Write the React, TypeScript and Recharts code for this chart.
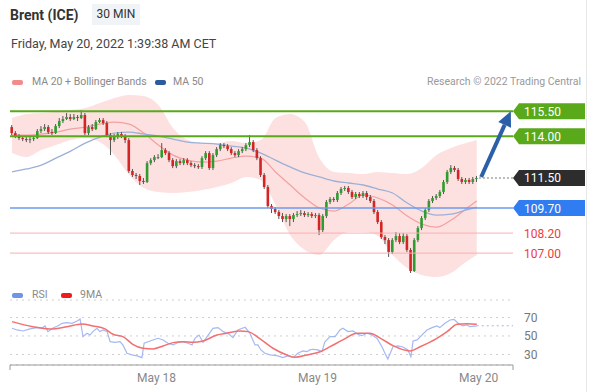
import React from "react";
import {
  ComposedChart,
  LineChart,
  Area,
  Bar,
  Line,
  XAxis,
  YAxis,
  CartesianGrid,
  ReferenceLine,
} from "recharts";

// 30 min candles, index 0 = first visible bar
const X_DOMAIN: [number, number] = [-0.55, 136.9];
const PRICE_DOMAIN: [number, number] = [105.39, 116.77];
const RSI_DOMAIN: [number, number] = [18.6, 88.9];

const firstOpen = 114.55;
const closes = [
  114.19, 114.01, 113.89, 113.83, 113.77, 113.83, 113.89, 114.31, 114.43, 114.55,
  114.25, 114.19, 114.61, 114.91, 115.03, 115.15, 115.03, 115.15, 115.09, 115.27,
  114.19, 114.55, 114.43, 114.85, 114.97, 114.79, 114.07, 113.77, 113.95, 114.13,
  114.01, 113.77, 111.92, 111.68, 111.62, 111.32, 111.26, 112.39, 112.57, 112.75,
  112.75, 113.17, 112.99, 112.57, 112.21, 112.51, 112.39, 112.57, 112.39, 112.27,
  112.21, 112.16, 112.69, 112.99, 112.1, 112.87, 113.23, 113.47, 113.41, 113.23,
  112.99, 112.87, 113.11, 113.23, 113.47, 113.65, 113.17, 112.69, 111.68, 110.96,
  109.82, 109.64, 109.46, 109.22, 109.04, 109.22, 109.04, 109.28, 109.34, 109.4,
  109.28, 109.34, 109.22, 109.28, 108.38, 109.22, 110.06, 110.24, 110.18, 110.6,
  110.84, 110.9, 110.66, 110.36, 110.54, 110.42, 110.6, 110.36, 110.12, 109.46,
  108.86, 107.96, 107.78, 107.07, 107.78, 108.02, 107.66, 108.02, 107.19, 105.93,
  107.78, 108.5, 109.1, 109.58, 110.12, 110.3, 110.42, 110.66, 111.26, 111.86,
  112.1, 111.98, 111.44, 111.26, 111.38, 111.26, 111.44, 111.5,
];
const highs = [
  114.67, 114.31, 114.13, 114.01, 113.95, 113.95, 114.01, 114.43, 114.61, 114.73,
  114.67, 114.43, 114.73, 115.09, 115.21, 115.39, 115.33, 115.33, 115.27, 115.57,
  115.39, 114.67, 114.73, 114.97, 115.09, 115.09, 114.91, 114.19, 114.13, 114.25,
  114.25, 114.13, 113.89, 112.04, 111.8, 111.74, 111.5, 112.51, 112.69, 112.87,
  112.93, 113.59, 113.29, 113.11, 112.69, 112.63, 112.63, 112.69, 112.69, 112.51,
  112.39, 112.33, 112.81, 113.11, 113.11, 112.99, 113.35, 113.59, 113.59, 113.53,
  113.35, 113.11, 113.23, 113.35, 113.59, 114.07, 113.77, 113.29, 112.81, 111.8,
  111.08, 109.94, 109.76, 109.58, 109.4, 109.34, 109.34, 109.4, 109.52, 109.58,
  109.52, 109.46, 109.46, 109.4, 109.4, 109.34, 110.18, 110.36, 110.36, 110.72,
  110.96, 111.02, 111.02, 110.78, 110.66, 110.66, 110.72, 110.72, 110.48, 110.24,
  109.58, 108.98, 108.08, 107.9, 107.9, 108.26, 108.2, 108.2, 108.14, 107.31,
  107.9, 108.62, 109.22, 109.7, 110.24, 110.42, 110.54, 110.78, 111.38, 111.98,
  112.27, 112.22, 112.1, 111.56, 111.5, 111.5, 111.56, 111.62,
];
const lows = [
  114.07, 113.89, 113.77, 113.71, 113.65, 113.59, 113.71, 113.83, 114.19, 114.31,
  114.13, 114.07, 114.13, 114.49, 114.79, 114.97, 114.91, 114.97, 114.91, 115.03,
  114.07, 114.07, 114.31, 114.37, 114.79, 114.67, 113.95, 112.87, 113.65, 113.83,
  113.89, 113.59, 111.8, 111.56, 111.44, 111.08, 111.14, 111.2, 112.27, 112.45,
  112.63, 112.69, 112.87, 112.45, 112.09, 112.09, 112.27, 112.27, 112.27, 112.15,
  112.09, 112.04, 112.04, 112.57, 111.98, 111.98, 112.75, 113.11, 113.29, 113.11,
  112.87, 112.75, 112.75, 112.99, 113.11, 113.35, 113.05, 112.57, 111.56, 110.84,
  109.7, 109.4, 109.34, 109.04, 108.86, 108.86, 108.62, 108.86, 109.16, 109.22,
  109.16, 109.16, 109.1, 109.1, 108.08, 108.26, 109.1, 109.94, 110.06, 110.06,
  110.48, 110.72, 110.54, 110.24, 110.24, 110.3, 110.3, 110.18, 110.0, 109.34,
  108.74, 107.84, 107.54, 106.77, 106.95, 107.66, 107.54, 107.54, 107.07, 105.81,
  105.87, 107.66, 108.38, 108.98, 109.46, 110.0, 110.18, 110.3, 110.54, 111.14,
  111.74, 111.86, 111.32, 111.14, 111.14, 111.14, 111.14, 111.26,
];

// indicator readings, every 4th bar
const bandAt = [0, 4, 8, 12, 16, 20, 24, 28, 32, 36, 40, 44, 48, 52, 56, 60, 64, 68, 72, 76, 80, 84, 88, 92, 96, 100, 104, 108, 112, 116, 120, 124, 127];
const bandUpper = [115.09, 115.33, 115.39, 115.45, 115.57, 115.69, 115.99, 116.29, 116.47, 116.41, 115.87, 114.49, 113.77, 113.59, 113.59, 113.71, 113.59, 113.77, 115.09, 115.33, 114.85, 112.69, 111.86, 111.8, 111.74, 111.86, 111.8, 111.74, 112.1, 112.87, 113.29, 113.59, 113.77];
const bandLower = [112.99, 112.75, 113.17, 113.47, 113.77, 113.89, 113.65, 112.87, 111.68, 110.9, 110.66, 110.6, 110.66, 110.78, 110.96, 111.2, 111.56, 111.38, 109.88, 108.08, 107.19, 106.89, 107.78, 108.26, 108.26, 108.02, 106.89, 106.11, 105.69, 105.57, 105.81, 106.47, 106.89];
const ma20 = [114.07, 114.07, 114.13, 114.25, 114.43, 114.55, 114.73, 114.85, 114.73, 114.19, 113.47, 112.87, 112.57, 112.45, 112.51, 112.69, 112.81, 112.69, 111.86, 111.08, 110.3, 109.7, 109.52, 109.94, 110.48, 110.3, 109.88, 109.22, 108.74, 108.56, 108.98, 109.64, 110.12];
const ma50 = [111.86, 112.04, 112.27, 112.69, 113.11, 113.59, 113.95, 114.19, 114.25, 114.13, 114.01, 113.83, 113.65, 113.59, 113.53, 113.41, 113.29, 112.99, 112.57, 112.16, 111.8, 111.56, 111.32, 111.2, 111.08, 110.84, 110.6, 110.0, 109.52, 109.28, 109.34, 109.58, 109.76];

// [bar position, value]
const rsiPoints: [number, number][] = [
  [0, 58.3], [1.4, 56.5], [3, 55.4], [4.9, 57.6], [6.8, 59], [8.2, 58.6], [9, 61], [9.8, 54.7], [11.2, 58.6], [12.6, 61],
  [13.7, 63.7], [15, 64.4], [16.4, 63.7], [17.8, 66.2], [18.6, 68.4], [19.4, 49.3], [20.5, 52.9], [21.3, 51], [22.1, 54.7], [23.2, 58.3],
  [24, 54.7], [24.9, 56.5], [26, 54.7], [26.8, 43.8], [28.1, 43.1], [29.5, 43.8], [30.3, 40.3], [31.4, 31.3], [32.8, 29.5], [34.2, 28.4],
  [35.5, 26.6], [36.1, 42.1], [37.2, 43.8], [38.5, 45.7], [39.9, 47.5], [41.3, 45.7], [42.6, 42.1], [44, 40.3], [45.4, 43.1], [46.7, 43.8],
  [48.1, 42.1], [49.2, 40.3], [50, 47.5], [51.1, 51], [52.2, 43.1], [53.6, 51], [54.9, 58.3], [56.3, 59], [57.7, 54.7], [59, 52.9],
  [60.4, 48.2], [61.7, 56.5], [63.7, 59.4], [65, 52.9], [66.4, 40.3], [67.2, 40.3], [68, 34.9], [69.1, 31.3], [70.5, 29.5], [72.4, 28.7],
  [74, 26.6], [75.4, 28.4], [76.8, 26.6], [78.1, 31.3], [79.5, 33.8], [80.6, 33], [81.4, 34.9], [82.2, 35.6], [83.6, 34.9], [84.7, 33],
  [85.5, 43.8], [86.9, 49.3], [88.3, 49.3], [89.6, 56.5], [90.4, 58.3], [91.8, 54.7], [93.2, 55.4], [94.5, 51.8], [95.6, 50.3], [97, 52.9],
  [98.4, 51], [99.7, 47.5], [101.1, 38.4], [101.9, 31.3], [102.7, 25.1], [104.1, 38.4], [105.5, 39.2], [106.8, 38.1], [108.2, 34.9], [109, 27.6],
  [109.6, 44.6], [110.7, 45.7], [112, 51], [113.4, 56.5], [114.8, 59], [116.1, 60.8], [116.9, 59], [118.3, 63.7], [119.7, 67.3], [120.8, 68],
  [121.9, 63.7], [123.2, 61], [124.3, 61.9], [125.1, 60], [127, 61],
];
const rsiMa: [number, number][] = [
  [0, 65.5], [5.7, 60], [10.4, 57.6], [15, 60], [19.1, 63], [22.1, 60.8], [25.4, 57.6], [27.6, 51.8], [30.3, 49.3], [33, 41],
  [35.8, 36.7], [38.5, 36], [41.3, 39.2], [44, 42.8], [46.7, 43.8], [49.5, 43.1], [52.2, 44.6], [56, 51], [58.7, 52.9], [62.3, 55.4],
  [64.5, 54.7], [67.8, 46.8], [71.3, 36.7], [75.1, 29.5], [77.3, 27], [80.6, 29.5], [84.2, 33], [86.9, 38.4], [90.4, 45.7], [94.3, 52.9],
  [97.8, 52.9], [100.5, 48], [104.1, 39.5], [108.7, 33.8], [111.5, 38.4], [116.1, 47.5], [118.9, 54.7], [121.6, 62.6], [124.3, 63.3], [127, 62.6],
];
const rsiLast = 61;

const dayTicks = [39.5, 83.5, 127.5];
const dayLabels = ["May 18", "May 19", "May 20"];

const resistance2 = 115.5;
const resistance1 = 114.0;
const lastPrice = 111.5;
const pivot = 109.7;
const support1 = 108.2;
const support2 = 107.0;
const targetBar = 136.3;

const GREEN = "#59a91b";
const FONT = "Roboto, sans-serif";

const candles = closes.map((c, i) => ({
  i,
  open: i === 0 ? firstOpen : closes[i - 1],
  close: c,
  high: highs[i],
  low: lows[i],
}));

const bandData = bandAt.map((i, k) => ({
  i,
  band: [bandLower[k], bandUpper[k]],
  ma20: ma20[k],
  ma50: ma50[k],
}));

const rsiMap = new Map(rsiPoints);
const maMap = new Map(rsiMa);
const rsiXs = Array.from(new Set([...rsiPoints.map((p) => p[0]), ...rsiMa.map((p) => p[0])])).sort((a, b) => a - b);
const rsiData = rsiXs.map((x) => ({ x, rsi: rsiMap.get(x) ?? null, ma: maMap.get(x) ?? null }));

function Candle(props: any) {
  const { x, y, width, height, payload } = props;
  const { open, close, high, low } = payload;
  const cx = x + width / 2;
  const k = height / (high - low);
  const yo = y + (high - open) * k;
  const yc = y + (high - close) * k;
  const top = Math.min(yo, yc);
  const h = Math.max(Math.abs(yc - yo), 1);
  return (
    <g>
      <line x1={cx} x2={cx} y1={y} y2={y + height} stroke="#555" strokeWidth={1} />
      <rect x={cx - 1.3} y={top} width={2.6} height={h} fill={close >= open ? "#2e9c2e" : "#d42424"} />
    </g>
  );
}

function LevelLine(props: any) {
  const { x1, y1, x2, y2, color, width, dash, tag, tagFill, textColor } = props;
  return (
    <g>
      <line x1={x1} y1={y1} x2={x2} y2={y2} stroke={color} strokeWidth={width} strokeDasharray={dash} />
      {tagFill ? (
        <polygon
          points={`${x2},${y2} ${x2 + 6},${y2 - 8} ${x2 + 72},${y2 - 8} ${x2 + 72},${y2 + 8} ${x2 + 6},${y2 + 8}`}
          fill={tagFill}
        />
      ) : null}
      <text x={x2 + 11} y={y2 + 4.5} fill={textColor} fontSize={12} fontFamily={FONT}>
        {tag}
      </text>
    </g>
  );
}

function Arrow(props: any) {
  const { x1, y1, x2, y2 } = props;
  const ang = Math.atan2(y2 - y1, x2 - x1);
  const bx = x2 - 15 * Math.cos(ang);
  const by = y2 - 15 * Math.sin(ang);
  const nx = -Math.sin(ang);
  const ny = Math.cos(ang);
  return (
    <g>
      <line x1={x1} y1={y1} x2={bx} y2={by} stroke="#2b5fa8" strokeWidth={4} />
      <polygon
        points={`${x2},${y2} ${bx + nx * 7},${by + ny * 7} ${bx - nx * 7},${by - ny * 7}`}
        fill="#2b5fa8"
      />
    </g>
  );
}

function DayTick(props: any) {
  const { x, y, payload } = props;
  const k = dayTicks.indexOf(payload.value);
  if (k < 0) return <line x1={x} x2={x} y1={y - 8} y2={y - 3} stroke="#999" />;
  return (
    <text x={x} y={y} dy="0.71em" textAnchor="middle" fill="#888" fontSize={12} fontFamily={FONT}>
      {dayLabels[k]}
    </text>
  );
}

const MARGIN = { top: 90, right: 76, bottom: 10, left: 10 };

function Swatch({ left, top, color }: { left: number; top: number; color: string }) {
  return (
    <div style={{ position: "absolute", left, top, width: 11, height: 5, borderRadius: 2, background: color }} />
  );
}

export default function App() {
  const small: React.CSSProperties = { position: "absolute", fontSize: 10.5, color: "#8a8a8a", lineHeight: "12px" };
  return (
    <div style={{ position: "absolute", left: 0, top: 0, width: 589, height: 392, background: "#fff", fontFamily: FONT, overflow: "hidden" }}>
      <div style={{ position: "absolute", left: 10, top: 7, fontSize: 14, fontWeight: 700, color: "#333", lineHeight: "16px" }}>
        Brent (ICE)
      </div>
      <div style={{ position: "absolute", left: 92, top: 4, width: 48, height: 21, background: "#f1f4f7", fontSize: 12, color: "#333", lineHeight: "21px", textAlign: "center" }}>
        30 MIN
      </div>
      <div style={{ position: "absolute", left: 11, top: 36, fontSize: 12.5, color: "#444", lineHeight: "16px" }}>
        Friday, May 20, 2022 1:39:38 AM CET
      </div>

      <Swatch left={12} top={80} color="#f28b8b" />
      <div style={{ ...small, left: 32, top: 76 }}>MA 20 + Bollinger Bands</div>
      <Swatch left={155} top={80} color="#2c5aa0" />
      <div style={{ ...small, left: 173, top: 76 }}>MA 50</div>
      <div style={{ ...small, right: 8, top: 76, color: "#999" }}>Research © 2022 Trading Central</div>

      <Swatch left={12} top={293} color="#7093e6" />
      <div style={{ ...small, left: 32, top: 289 }}>RSI</div>
      <Swatch left={61} top={293} color="#ee1d1d" />
      <div style={{ ...small, left: 80, top: 289 }}>9MA</div>

      <div style={{ position: "absolute", left: 586, top: 0, width: 1, height: 392, background: "#e8e8e8" }} />

      {/* bands and moving averages */}
      <div style={{ position: "absolute", left: 0, top: 0 }}>
        <ComposedChart width={589} height={290} data={bandData} margin={MARGIN}>
          <XAxis type="number" dataKey="i" domain={X_DOMAIN} allowDataOverflow hide />
          <YAxis type="number" domain={PRICE_DOMAIN} allowDataOverflow hide />
          <Area type="monotone" dataKey="band" stroke="none" fill="#fde1e1" fillOpacity={1} isAnimationActive={false} />
          <Line type="monotone" dataKey="ma20" stroke="#f4a0a0" strokeWidth={1.2} dot={false} isAnimationActive={false} />
          <Line type="monotone" dataKey="ma50" stroke="#9cb0d6" strokeWidth={1.3} dot={false} isAnimationActive={false} />
        </ComposedChart>
      </div>

      {/* candles and levels */}
      <div style={{ position: "absolute", left: 0, top: 0 }}>
        <ComposedChart width={589} height={290} data={candles} margin={MARGIN}>
          <XAxis type="number" dataKey="i" domain={X_DOMAIN} allowDataOverflow hide />
          <YAxis type="number" domain={PRICE_DOMAIN} allowDataOverflow hide />
          <ReferenceLine
            y={support2}
            shape={(p: any) => <LevelLine {...p} color="#f7b0b0" width={1} tag="107.00" textColor="#f03a3a" />}
          />
          <ReferenceLine
            y={support1}
            shape={(p: any) => <LevelLine {...p} color="#f7b0b0" width={1} tag="108.20" textColor="#f03a3a" />}
          />
          <ReferenceLine
            y={pivot}
            shape={(p: any) => <LevelLine {...p} color="#6b9bec" width={1.5} tag="109.70" tagFill="#2f7df0" textColor="#fff" />}
          />
          <ReferenceLine
            y={resistance1}
            shape={(p: any) => <LevelLine {...p} color={GREEN} width={2} tag="114.00" tagFill={GREEN} textColor="#fff" />}
          />
          <ReferenceLine
            y={resistance2}
            shape={(p: any) => <LevelLine {...p} color={GREEN} width={2} tag="115.50" tagFill={GREEN} textColor="#fff" />}
          />
          <ReferenceLine
            segment={[{ x: 127.6, y: lastPrice }, { x: X_DOMAIN[1], y: lastPrice }]}
            shape={(p: any) => <LevelLine {...p} color="#777" width={1} dash="2 2" tag="111.50" tagFill="#2d2d2d" textColor="#fff" />}
          />
          <Bar
            dataKey={(d: any) => [d.low, d.high]}
            barSize={3}
            shape={(p: any) => <Candle {...p} />}
            isAnimationActive={false}
          />
          <ReferenceLine
            segment={[{ x: 128.2, y: lastPrice + 0.06 }, { x: targetBar, y: resistance2 }]}
            shape={(p: any) => <Arrow {...p} />}
          />
        </ComposedChart>
      </div>

      {/* RSI panel */}
      <div style={{ position: "absolute", left: 0, top: 290 }}>
        <LineChart width={589} height={100} data={rsiData} margin={{ top: 10, right: 0, bottom: 0, left: 10 }}>
          <CartesianGrid vertical={false} stroke="#cfcfcf" strokeDasharray="2 4" />
          <XAxis
            type="number"
            dataKey="x"
            domain={X_DOMAIN}
            allowDataOverflow
            ticks={[X_DOMAIN[0], ...dayTicks, X_DOMAIN[1]]}
            interval={0}
            height={25}
            stroke="#999"
            tickLine={false}
            tick={(p: any) => <DayTick {...p} />}
          />
          <YAxis
            type="number"
            orientation="right"
            domain={RSI_DOMAIN}
            allowDataOverflow
            ticks={[30, 50, 70]}
            interval={0}
            width={76}
            axisLine={false}
            tickLine={false}
            tickMargin={5}
            tick={{ fill: "#777", fontSize: 12, fontFamily: FONT }}
          />
          <ReferenceLine
            segment={[{ x: 127, y: rsiLast }, { x: X_DOMAIN[1], y: rsiLast }]}
            stroke="#9fb4ef"
            strokeDasharray="2 3"
          />
          <Line type="linear" dataKey="rsi" stroke="#a5b8f2" strokeWidth={1.2} dot={false} connectNulls isAnimationActive={false} />
          <Line type="monotone" dataKey="ma" stroke="#f27070" strokeWidth={1.5} dot={false} connectNulls isAnimationActive={false} />
        </LineChart>
      </div>
    </div>
  );
}
